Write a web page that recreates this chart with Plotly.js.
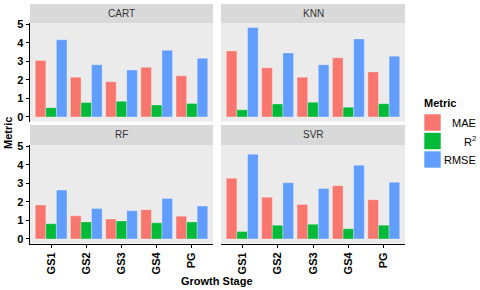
<!DOCTYPE html>
<html><head><meta charset="utf-8">
<script src="https://cdn.plot.ly/plotly-3.0.1.min.js"></script>
<style>html,body{margin:0;padding:0;background:#fff}#chart{width:480px;height:290px}</style>
</head><body><div id="chart"></div>
<script>
const stages = ['GS1','GS2','GS3','GS4','PG'];
const models = ['CART','KNN','RF','SVR'];
const metricNames = ['MAE','R<sup>2</sup>','RMSE'];
const metricColors = ['#F8766D','#00BA38','#619CFF'];

const cartMAE  = [3.05, 2.15, 1.90, 2.68, 2.22];
const cartR2   = [0.50, 0.78, 0.84, 0.64, 0.73];
const cartRMSE = [4.17, 2.82, 2.54, 3.60, 3.17];

const knnMAE  = [3.57, 2.66, 2.15, 3.20, 2.43];
const knnR2   = [0.38, 0.70, 0.79, 0.52, 0.71];
const knnRMSE = [4.84, 3.46, 2.82, 4.22, 3.28];

const rfMAE  = [1.84, 1.25, 1.07, 1.58, 1.23];
const rfR2   = [0.82, 0.92, 0.97, 0.87, 0.92];
const rfRMSE = [2.64, 1.65, 1.52, 2.19, 1.78];

const svrMAE  = [3.28, 2.25, 1.86, 2.88, 2.12];
const svrR2   = [0.40, 0.74, 0.79, 0.55, 0.74];
const svrRMSE = [4.58, 3.04, 2.72, 3.99, 3.06];

const modelData = [
  [cartMAE, cartR2, cartRMSE],
  [knnMAE, knnR2, knnRMSE],
  [rfMAE, rfR2, rfRMSE],
  [svrMAE, svrR2, svrRMSE]
];

const W = 480, H = 290;
const px = v => v / W, py = v => 1 - v / H;
const xDom = [[px(30), px(213)], [px(221), px(405)], [px(30), px(213)], [px(221), px(405)]];
const yDom = [[py(121.5), py(23)], [py(121.5), py(23)], [py(243.5), py(145)], [py(243.5), py(145)]];
const stripY = [[py(23), py(4)], [py(23), py(4)], [py(145), py(125)], [py(145), py(125)]];

const traces = [];
models.forEach((m, i) => {
  const sfx = i === 0 ? '' : String(i + 1);
  metricNames.forEach((mn, k) => {
    traces.push({
      type: 'bar', x: stages, y: modelData[i][k], name: mn,
      xaxis: 'x' + sfx, yaxis: 'y' + sfx,
      marker: {color: metricColors[k], line: {width: 0.6, color: 'rgba(255,255,255,0.5)'}},
      showlegend: false, hoverinfo: 'skip'
    });
  });
});

const font = {family: 'Liberation Sans, Arial, sans-serif', size: 11, color: '#000'};
const layout = {
  width: W, height: H,
  margin: {l: 0, r: 0, t: 0, b: 0},
  paper_bgcolor: '#fff', plot_bgcolor: '#EBEBEB',
  barmode: 'group', bargap: 0.1, bargroupgap: 0,
  font: font,
  showlegend: false,
  shapes: [], annotations: []
};

models.forEach((m, i) => {
  const sfx = i === 0 ? '' : String(i + 1);
  const left = (i % 2 === 0), bottom = (i >= 2);
  layout['xaxis' + sfx] = {
    domain: xDom[i], anchor: 'y' + sfx, type: 'category', range: [-0.6, 4.6],
    showgrid: false, zeroline: false, fixedrange: true,
    showline: bottom, linecolor: '#000', linewidth: 1.5,
    ticks: bottom ? 'outside' : '', ticklen: 3, tickcolor: '#000',
    showticklabels: bottom, tickangle: -90,
    tickfont: {family: font.family, size: 11, color: '#000', weight: 'bold'}
  };
  layout['yaxis' + sfx] = {
    domain: yDom[i], anchor: 'x' + sfx, range: [-0.25, 5.08],
    tickvals: [0,1,2,3,4,5], showgrid: false, zeroline: false, fixedrange: true,
    showline: left, linecolor: '#000', linewidth: 1.5,
    ticks: left ? 'outside' : '', ticklen: 3, tickcolor: '#000',
    showticklabels: left,
    tickfont: {family: font.family, size: 11, color: '#000', weight: 'bold'}
  };
  layout.shapes.push({type: 'rect', xref: 'paper', yref: 'paper',
    x0: xDom[i][0], x1: xDom[i][1], y0: stripY[i][0], y1: stripY[i][1],
    fillcolor: '#D9D9D9', line: {width: 0}, layer: 'below'});
  layout.annotations.push({xref: 'paper', yref: 'paper',
    x: (xDom[i][0] + xDom[i][1]) / 2, y: (stripY[i][0] + stripY[i][1]) / 2,
    text: m, showarrow: false, xanchor: 'center', yanchor: 'middle',
    font: {family: font.family, size: 10, color: '#333'}});
});

// axis titles
layout.annotations.push({xref: 'paper', yref: 'paper', x: px(217), y: py(281),
  text: 'Growth Stage', showarrow: false, xanchor: 'center', yanchor: 'middle',
  font: {family: font.family, size: 11, color: '#000', weight: 'bold'}});
layout.annotations.push({xref: 'paper', yref: 'paper', x: px(8), y: py(133),
  text: 'Metric', textangle: -90, showarrow: false, xanchor: 'center', yanchor: 'middle',
  font: {family: font.family, size: 11, color: '#000', weight: 'bold'}});

// legend
layout.annotations.push({xref: 'paper', yref: 'paper', x: px(422), y: py(103),
  text: 'Metric', showarrow: false, xanchor: 'left', yanchor: 'middle',
  font: {family: font.family, size: 11, color: '#000', weight: 'bold'}});
metricNames.forEach((mn, k) => {
  const top = 114 + k * 18.5;
  layout.shapes.push({type: 'rect', xref: 'paper', yref: 'paper',
    x0: px(424), x1: px(441), y0: py(top + 17), y1: py(top),
    fillcolor: metricColors[k], line: {width: 1, color: 'rgba(255,255,255,0.6)'}});
  layout.annotations.push({xref: 'paper', yref: 'paper', x: px(478), y: py(top + 9),
    text: mn, showarrow: false, xanchor: 'right', yanchor: 'middle',
    font: {family: font.family, size: 11, color: '#000'}});
});

Plotly.newPlot('chart', traces, layout, {staticPlot: true, displayModeBar: false});
</script></body></html>
